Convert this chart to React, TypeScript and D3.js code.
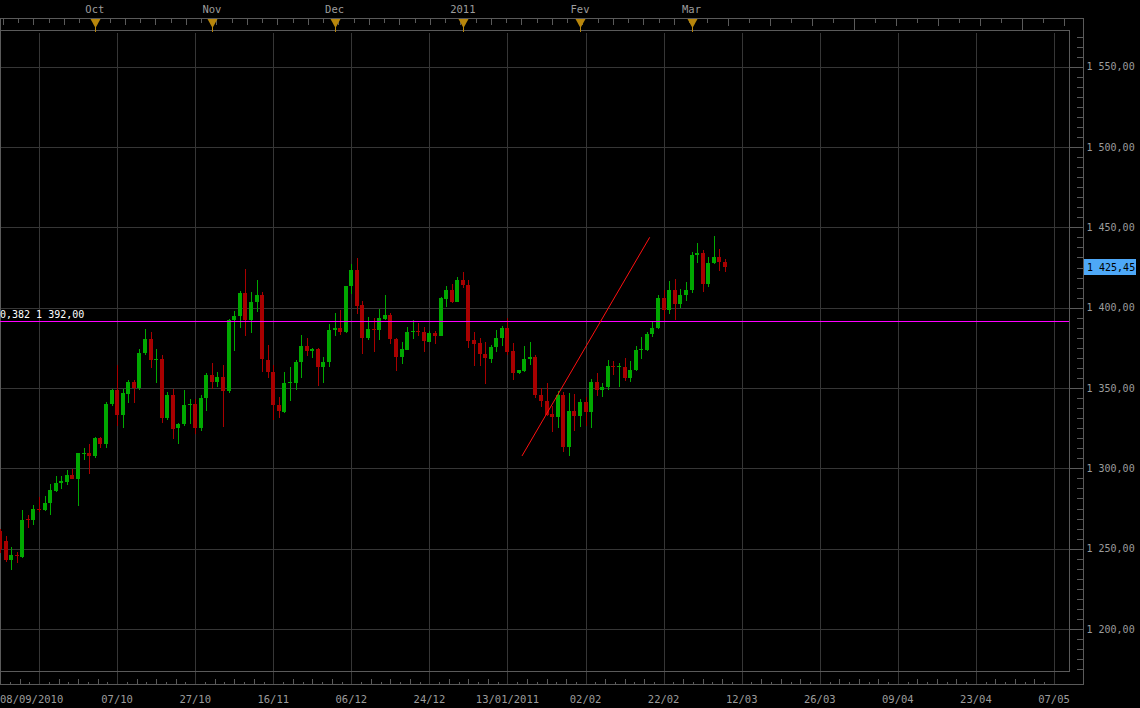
import { useEffect, useRef } from "react";
import * as d3 from "d3";

// daily candles, index 0 = 08/09/2010
const opens = [
  1261, 1255, 1243, 1246, 1245, 1268.3, 1267.6, 1275, 1274.2, 1278.2,
  1286, 1290.6, 1291.7, 1296, 1293.5, 1309, 1309.5, 1307.4, 1319, 1315,
  1339.8, 1348.9, 1332.9, 1346.5, 1353.9, 1349.8, 1371.6, 1380.7, 1367.5, 1368.2,
  1331.1, 1345.8, 1324.9, 1327.4, 1339.4, 1340.2, 1324.9, 1343.5, 1358.3, 1353.5,
  1357, 1347.9, 1392.5, 1394.6, 1409.3, 1392.5, 1403.3, 1408.1, 1367.4, 1360.1,
  1339.6, 1335.2, 1353.1, 1352.9, 1366, 1376.3, 1372.8, 1374.5, 1362.8, 1366,
  1385.9, 1387.5, 1384.6, 1413.3, 1423.7, 1401.9, 1381.3, 1386.9, 1385.9, 1393.1,
  1395.6, 1380.7, 1369.5, 1373.8, 1385.3, 1385.5, 1385, 1378.8, 1384.4, 1382.6,
  1405.2, 1411.2, 1403.7, 1417.4, 1414.3, 1379.9, 1378.2, 1371.3, 1368.2, 1375.3,
  1380.9, 1387.5, 1373.2, 1359.1, 1360.8, 1367.8, 1369.5, 1345.8, 1342.1, 1334,
  1331.7, 1345.8, 1313, 1335.9, 1332.3, 1341.5, 1334.8, 1353.9, 1348.5, 1350.4,
  1363.9, 1363.3, 1363.3, 1356, 1361, 1374.1, 1373.4, 1383.4, 1387.1, 1406.2,
  1398.3, 1411.2, 1402.1, 1407.7, 1410.8, 1432.6, 1434.2, 1415, 1427.6, 1431.8,
  1428.6,
];
const highs = [
  1262.5, 1258, 1251, 1248, 1274, 1271, 1277, 1282, 1283, 1290,
  1295.4, 1295.4, 1299, 1299.3, 1309.5, 1312.8, 1315.3, 1319.7, 1319.5, 1341.5,
  1349.6, 1364.5, 1349.4, 1355.2, 1355.2, 1374.5, 1386.9, 1385, 1374.5, 1370.7,
  1347.3, 1349.2, 1328.3, 1348.9, 1343.3, 1343.3, 1345.8, 1359.5, 1365.7, 1359.9,
  1364.5, 1393.1, 1398.1, 1410.6, 1424.3, 1410, 1417.4, 1410, 1377, 1364.5,
  1344.6, 1359.7, 1363.3, 1367.6, 1382.8, 1381.1, 1375.1, 1375.1, 1369.5, 1390,
  1396.9, 1398.8, 1413.7, 1427.4, 1431.1, 1404.4, 1394.4, 1393.6, 1399.4, 1408.1,
  1396.7, 1380.9, 1378.8, 1388.2, 1392.1, 1390.4, 1388, 1385.5, 1385.5, 1406.4,
  1413.5, 1414.9, 1419.3, 1422.4, 1417.4, 1384.8, 1381.3, 1378.6, 1376.5, 1386.3,
  1388.8, 1393.6, 1378, 1361.4, 1376.3, 1378.8, 1370.7, 1349.8, 1353.3, 1338.8,
  1347.9, 1347.5, 1347.1, 1346.4, 1343.3, 1344.6, 1355.8, 1359.5, 1353.3, 1367.6,
  1367, 1365.7, 1368.9, 1367, 1376.3, 1382, 1385.1, 1391.9, 1408.1, 1411.2,
  1416.8, 1418.1, 1411.8, 1416.2, 1434.9, 1440.5, 1436.1, 1431.8, 1444.8, 1436.7,
  1430.5,
];
const lows = [
  1247, 1242, 1237, 1241, 1244, 1263, 1265, 1273, 1273.6, 1271,
  1285.4, 1287, 1289.4, 1293.5, 1276.3, 1305.4, 1296.2, 1306.2, 1312.4, 1312.4,
  1338.6, 1326.1, 1324.9, 1340.4, 1340.4, 1348.5, 1370.3, 1362.2, 1352.9, 1328,
  1330.3, 1318, 1315.3, 1326.1, 1327.8, 1321.3, 1323, 1335.4, 1349.1, 1350.4,
  1325.5, 1346.7, 1373.2, 1387.1, 1382.6, 1384, 1397.1, 1359.7, 1356, 1329.8,
  1331.1, 1334.6, 1341.7, 1348.5, 1356, 1369.7, 1368.4, 1351, 1353.3, 1362.8,
  1382.1, 1383.2, 1384.4, 1408.7, 1396.3, 1371.4, 1380.1, 1372.2, 1380.1, 1392.5,
  1377.6, 1360.8, 1364.7, 1373.6, 1380.7, 1382.6, 1372.2, 1378.6, 1377.6, 1382.4,
  1400.6, 1403.1, 1403.5, 1412.4, 1374.7, 1363.9, 1363.9, 1352.7, 1365.3, 1372.6,
  1376.3, 1370.5, 1354.8, 1358.9, 1360.1, 1364.5, 1343.5, 1337.9, 1332.7, 1322.4,
  1324.9, 1310.3, 1307.4, 1323, 1325.5, 1326.5, 1324.9, 1344.8, 1344.2, 1348.5,
  1357.9, 1350.8, 1354.1, 1353.5, 1360.8, 1367.8, 1373.2, 1382, 1386.9, 1392.5,
  1395.8, 1392.5, 1399.6, 1404.4, 1409.3, 1427.6, 1410, 1413.1, 1427.4, 1423,
  1422.4,
];
const closes = [
  1250, 1243, 1246, 1245.5, 1268, 1267.8, 1275, 1274.5, 1278.6, 1286.7,
  1291, 1292.3, 1296, 1293.5, 1309.3, 1309.3, 1307.4, 1319, 1315, 1340.2,
  1348.9, 1332.9, 1347.1, 1353.9, 1349.8, 1372, 1380.7, 1367.2, 1368, 1331.1,
  1345.8, 1324.7, 1327.8, 1339.6, 1339.8, 1324.9, 1343.7, 1358.3, 1353.5, 1357,
  1347.9, 1392.5, 1395, 1409.3, 1392.5, 1403.7, 1408.1, 1367.8, 1359.7, 1339.2,
  1335.4, 1353.3, 1353.5, 1366.4, 1376.3, 1372.8, 1374.3, 1362.8, 1366.4, 1386.3,
  1387.5, 1384.6, 1413.7, 1423.7, 1401.2, 1381.3, 1386.9, 1385.9, 1393.6, 1395.6,
  1380.3, 1369.5, 1374.3, 1385, 1385.5, 1385, 1379, 1384.4, 1382.6, 1406,
  1411.2, 1403.5, 1417.4, 1413.9, 1379.4, 1377.6, 1370.9, 1368.4, 1375.3, 1380.9,
  1387.5, 1372.6, 1359.1, 1361.2, 1368.2, 1369.5, 1345.4, 1341.7, 1333.4, 1331.7,
  1345.8, 1313, 1335.9, 1332.3, 1341.5, 1334.8, 1353.9, 1348.5, 1350.8, 1363.9,
  1362.9, 1363.5, 1356, 1361.4, 1373.8, 1374.3, 1383.8, 1387.5, 1406.2, 1398.3,
  1411.2, 1402.1, 1408.1, 1411.2, 1433, 1434.2, 1415, 1428, 1431.8, 1428.2,
  1425.45,
];

// bottom date ticks (trading-day index)
const dateTickIdx = [21, 35, 49, 63, 77, 91, 105, 119, 133, 147, 161, 175, 189];
const dateTickText = [
  "07/10", "27/10", "16/11", "06/12", "24/12", "13/01/2011", "02/02",
  "22/02", "12/03", "26/03", "09/04", "23/04", "07/05",
];
const firstDate = "08/09/2010";

// month markers on top ruler
const monthIdx = [17, 38, 60, 83, 104, 124];
const monthText = ["Oct", "Nov", "Dec", "2011", "Fev", "Mar"];

const priceTicks = [1200, 1250, 1300, 1350, 1400, 1450, 1500, 1550];

// retracement level and drawn trend line
const fiboRatio = "0,382";
const fiboLevel = 1392;
const trendIdx = [93.6, 116.5];
const trendPrice = [1307.7, 1443.8];

export default function App() {
  const svgRef = useRef<SVGSVGElement>(null);

  useEffect(() => {
    if (!svgRef.current) return;
    const svg = d3.select(svgRef.current);
    svg.selectAll("*").remove();

    const width = 1140;
    const height = 708;
    const plotRight = 1069.5;
    const axisX = 1083.5;
    const plotTop = 30.5;
    const plotBottom = 671.5;
    const rulerTop = 18.5;
    const rulerBottom = 684.5;
    const font = "'DejaVu Sans Mono', monospace";
    const frame = "#5a5a5a";
    const gridColor = "#363636";
    const textColor = "#9c9c9c";

    const x = d3.scaleLinear().domain([0, 189]).range([0, 1054]);
    const y = d3.scaleLinear().domain([1200, 1550]).range([629, 66.7]);
    const fmt = d3.formatLocale({
      decimal: ",",
      thousands: " ",
      grouping: [3],
      currency: ["", ""],
    }).format(",.2f");

    svg.attr("width", width).attr("height", height);
    svg.append("rect").attr("width", width).attr("height", height).attr("fill", "#000");

    const crisp = svg.append("g").attr("shape-rendering", "crispEdges");

    // horizontal grid
    crisp
      .selectAll(".hgrid")
      .data(priceTicks)
      .enter()
      .append("line")
      .attr("x1", 0)
      .attr("x2", axisX)
      .attr("y1", (d) => Math.round(y(d)) + 0.5)
      .attr("y2", (d) => Math.round(y(d)) + 0.5)
      .attr("stroke", gridColor);

    // vertical grid every 14 sessions
    const gridIdx = d3.range(7, 190, 14);
    crisp
      .selectAll(".vgrid")
      .data(gridIdx)
      .enter()
      .append("line")
      .attr("x1", (d) => Math.round(x(d)) + 0.5)
      .attr("x2", (d) => Math.round(x(d)) + 0.5)
      .attr("y1", plotTop + 2)
      .attr("y2", rulerBottom)
      .attr("stroke", gridColor);

    // frames
    const lines: [number, number, number, number][] = [
      [0, rulerTop, axisX, rulerTop],
      [0, plotTop, plotRight, plotTop],
      [plotRight, plotTop, plotRight, plotBottom],
      [0, plotBottom, plotRight, plotBottom],
      [0, rulerBottom, axisX, rulerBottom],
      [axisX, rulerTop, axisX, rulerBottom],
      [0.5, rulerTop, 0.5, rulerBottom],
    ];
    lines.forEach(([x1, y1, x2, y2]) => {
      crisp
        .append("line")
        .attr("x1", x1)
        .attr("y1", y1)
        .attr("x2", x2)
        .attr("y2", y2)
        .attr("stroke", frame);
    });

    // top ruler ticks
    const topTicks = d3.range(2.9, 692, 15.25);
    topTicks.forEach((tx, i) => {
      crisp
        .append("line")
        .attr("x1", Math.round(tx) + 0.5)
        .attr("x2", Math.round(tx) + 0.5)
        .attr("y1", rulerTop)
        .attr("y2", rulerTop + (i % 2 ? 4 : 6))
        .attr("stroke", frame);
    });
    d3.range(-15, 3).forEach((k) => {
      const tx = 1022 + k * 21;
      if (tx < 700 || tx > 1075) return;
      const major = k % 8 === 0;
      crisp
        .append("line")
        .attr("x1", tx + 0.5)
        .attr("x2", tx + 0.5)
        .attr("y1", rulerTop)
        .attr("y2", major ? plotTop : rulerTop + (k % 2 ? 4 : 7))
        .attr("stroke", frame);
    });

    // bottom ruler ticks
    d3.range(0, 190, 1.75).forEach((d, k) => {
      if (k % 8 === 4) return;
      const tx = Math.round(x(d)) + 0.5;
      if (tx > plotRight) return;
      crisp
        .append("line")
        .attr("x1", tx)
        .attr("x2", tx)
        .attr("y1", rulerBottom)
        .attr("y2", rulerBottom - (k % 2 ? 3 : 6))
        .attr("stroke", frame);
    });

    // right axis ticks
    d3.range(1175, 1575, 6.25).forEach((p) => {
      const ty = Math.round(y(p)) + 0.5;
      if (ty < rulerTop + 2 || ty > rulerBottom - 2) return;
      const major = p % 50 === 0;
      crisp
        .append("line")
        .attr("x1", major ? plotRight : axisX - 7)
        .attr("x2", axisX)
        .attr("y1", ty)
        .attr("y2", ty)
        .attr("stroke", frame);
    });

    // right axis labels
    svg
      .selectAll(".ylabel")
      .data(priceTicks)
      .enter()
      .append("text")
      .attr("x", 1086.5)
      .attr("y", (d) => y(d) + 3.6)
      .attr("fill", textColor)
      .attr("font-family", font)
      .attr("font-size", 10)
      .text((d) => fmt(d));

    // bottom date labels
    svg
      .append("text")
      .attr("x", 0)
      .attr("y", 703)
      .attr("fill", textColor)
      .attr("font-family", font)
      .attr("font-size", 10.5)
      .text(firstDate);
    svg
      .selectAll(".xlabel")
      .data(dateTickIdx)
      .enter()
      .append("text")
      .attr("x", (d) => x(d))
      .attr("y", 703)
      .attr("text-anchor", "middle")
      .attr("fill", textColor)
      .attr("font-family", font)
      .attr("font-size", 10.5)
      .text((d, i) => dateTickText[i]);

    // month markers
    svg
      .selectAll(".mlabel")
      .data(monthIdx)
      .enter()
      .append("text")
      .attr("x", (d) => x(d))
      .attr("y", 13)
      .attr("text-anchor", "middle")
      .attr("fill", textColor)
      .attr("font-family", font)
      .attr("font-size", 10.5)
      .text((d, i) => monthText[i]);
    monthIdx.forEach((d) => {
      const cx = Math.round(x(d)) + 0.5;
      svg
        .append("path")
        .attr("d", `M${cx - 5},19 L${cx + 5},19 L${cx},28 Z`)
        .attr("fill", "#b8860b");
      crisp
        .append("line")
        .attr("x1", cx)
        .attr("x2", cx)
        .attr("y1", 27)
        .attr("y2", 32)
        .attr("stroke", "#b8860b");
    });

    // candles
    const candles = d3.range(opens.length).map((i) => ({
      i,
      o: opens[i],
      h: highs[i],
      l: lows[i],
      c: closes[i],
    }));
    const up = "#00a800";
    const down = "#a80000";
    const cg = crisp.append("g");
    cg.selectAll(".wick")
      .data(candles)
      .enter()
      .append("rect")
      .attr("x", (d) => Math.round(x(d.i)))
      .attr("width", 1)
      .attr("y", (d) => Math.round(y(d.h)))
      .attr("height", (d) => Math.max(1, Math.round(y(d.l)) - Math.round(y(d.h))))
      .attr("fill", (d) => (d.c >= d.o ? up : down));
    cg.selectAll(".body")
      .data(candles)
      .enter()
      .append("rect")
      .attr("x", (d) => Math.round(x(d.i)) - 2)
      .attr("width", 4)
      .attr("y", (d) => Math.round(y(Math.max(d.o, d.c))))
      .attr("height", (d) =>
        Math.max(1, Math.round(y(Math.min(d.o, d.c))) - Math.round(y(Math.max(d.o, d.c))))
      )
      .attr("fill", (d) => (d.c >= d.o ? up : down));

    // retracement line
    const fy = Math.round(y(fiboLevel)) + 0.5;
    svg
      .append("line")
      .attr("x1", 0)
      .attr("x2", plotRight - 1)
      .attr("y1", fy)
      .attr("y2", fy)
      .attr("stroke", "#ff00ff")
      .attr("stroke-width", 1)
      .attr("shape-rendering", "crispEdges");
    svg
      .append("text")
      .attr("x", 0)
      .attr("y", fy - 4)
      .attr("fill", "#ffffff")
      .attr("font-family", font)
      .attr("font-size", 10)
      .text(`${fiboRatio} ${fmt(fiboLevel)}`);

    // trend line
    svg
      .append("line")
      .attr("x1", x(trendIdx[0]))
      .attr("y1", y(trendPrice[0]))
      .attr("x2", x(trendIdx[1]))
      .attr("y2", y(trendPrice[1]))
      .attr("stroke", "#ff1010")
      .attr("stroke-width", 1);

    // last price tag
    const last = closes[closes.length - 1];
    const ly = y(last);
    svg
      .append("rect")
      .attr("x", 1084)
      .attr("y", Math.round(ly) - 8)
      .attr("width", 52)
      .attr("height", 16)
      .attr("fill", "#4ea8f7");
    svg
      .append("text")
      .attr("x", 1087)
      .attr("y", ly + 3.8)
      .attr("fill", "#000")
      .attr("font-family", font)
      .attr("font-size", 10)
      .text(fmt(last));
  }, []);

  return (
    <div style={{ position: "absolute", left: 0, top: 0 }}>
      <svg ref={svgRef} style={{ display: "block" }}></svg>
    </div>
  );
}
